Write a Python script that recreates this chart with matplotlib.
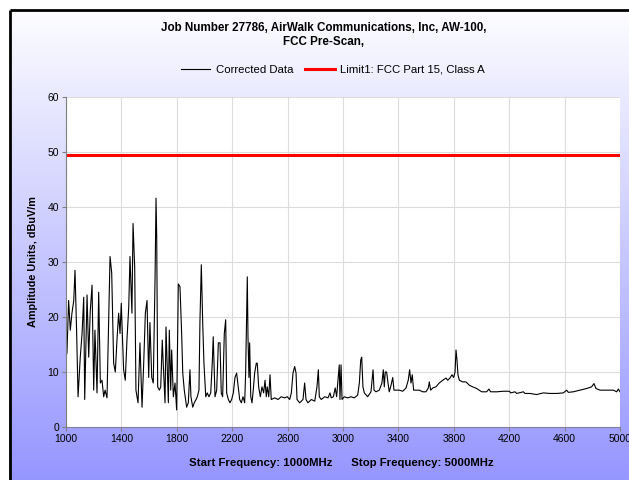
import numpy as np
import matplotlib
matplotlib.use("Agg")
import matplotlib.pyplot as plt

plt.rcParams['font.family'] = ['Liberation Sans', 'DejaVu Sans']

# frequency (MHz) and corrected amplitude (dBuV/m)
freq = [1000, 1007, 1019, 1031, 1043, 1056, 1065, 1077, 1087, 1103, 1116, 1128, 1135,
        1152, 1164, 1175, 1188, 1200, 1209, 1224, 1236, 1248, 1260, 1272, 1282, 1296,
        1308, 1318, 1330, 1344, 1356, 1368, 1380, 1390, 1399, 1416, 1428, 1440, 1453,
        1462, 1476, 1484, 1496, 1505, 1520, 1534, 1549, 1561, 1573, 1585, 1597, 1606,
        1619, 1630, 1643, 1650, 1655, 1662, 1674, 1684, 1695, 1703, 1715, 1722, 1731,
        1739, 1746, 1756, 1763, 1775, 1787, 1799, 1811, 1823, 1828, 1835, 1843, 1854,
        1871, 1883, 1895, 1902, 1915, 1926, 1939, 1948, 1960, 1967, 1977, 1987, 1996,
        2009, 2020, 2032, 2045, 2056, 2063, 2076, 2088, 2100, 2112, 2121, 2131, 2143,
        2153, 2160, 2172, 2184, 2196, 2208, 2220, 2232, 2242, 2254, 2266, 2278, 2290,
        2297, 2305, 2309, 2314, 2321, 2326, 2334, 2343, 2352, 2362, 2374, 2381, 2391,
        2403, 2415, 2427, 2437, 2446, 2453, 2464, 2473, 2482, 2507, 2531, 2554, 2579,
        2598, 2615, 2627, 2639, 2651, 2661, 2668, 2687, 2711, 2723, 2733, 2747, 2771,
        2796, 2812, 2822, 2829, 2843, 2868, 2892, 2906, 2915, 2930, 2944, 2954, 2964,
        2973, 2978, 2986, 2993, 3009, 3034, 3058, 3081, 3106, 3118, 3128, 3135, 3144,
        3154, 3178, 3202, 3217, 3224, 3238, 3262, 3281, 3291, 3298, 3305, 3315, 3325,
        3334, 3347, 3359, 3368, 3383, 3406, 3431, 3455, 3471, 3481, 3491, 3500, 3510,
        3527, 3551, 3575, 3599, 3616, 3623, 3633, 3648, 3671, 3695, 3720, 3744, 3756,
        3772, 3787, 3799, 3809, 3816, 3823, 3830, 3840, 3864, 3888, 3912, 3936, 3965,
        4001, 4037, 4054, 4066, 4110, 4157, 4201, 4211, 4242, 4254, 4302, 4314, 4350,
        4398, 4446, 4494, 4543, 4591, 4615, 4627, 4663, 4711, 4759, 4795, 4812, 4827,
        4856, 4904, 4952, 4976, 4988, 5000]
amp = [12.8, 13.5, 23, 17.6, 20.7, 23, 28.5, 17, 5.5, 12.7, 17, 23.6, 5,
       24, 12.7, 21, 25.8, 6.7, 17.6, 6.2, 24.5, 8, 8.5, 5.5, 6.7, 5.3,
       19, 31, 28, 11.6, 10, 15.8, 20.7, 17, 22.5, 10.4, 8.5, 15.8, 21.8,
       31, 20.7, 37, 29, 6.7, 4.4, 15.3, 3.6, 11.6, 20.7, 23, 9, 19,
       9, 8, 27, 41.6, 34.5, 7.3, 6.7, 7.3, 15.8, 11, 4.4, 18.2, 11,
       4.4, 17.6, 6.7, 14, 5.5, 8, 3.1, 26, 25.5, 21.8, 17, 9.8, 6.7,
       3.6, 4.4, 10.4, 5.5, 3.6, 4.4, 5, 5.5, 6.7, 19, 29.5, 19, 11.6,
       5.5, 6.2, 5.5, 6.2, 11.6, 16.4, 5.5, 6.7, 15.3, 15.3, 6.2, 5.5, 17,
       19.5, 6.2, 5, 4.4, 5, 6.2, 9, 9.8, 7.6, 5, 4.4, 5.5, 4.4,
       9.8, 21.8, 27.3, 16.4, 9, 15.3, 5.5, 4.4, 6.7, 9.8, 11.6, 11.6, 7.3,
       5.5, 7.3, 6.2, 8.5, 5.5, 7.3, 5.5, 9.5, 5, 5.3, 5, 5.5, 5.3,
       5.5, 5, 6.2, 9.8, 11, 9.8, 5, 4.4, 5, 8, 5, 4.4, 5,
       4.7, 7.3, 10.4, 5.5, 5, 5.5, 5.3, 6.2, 5.3, 5.5, 7.1, 5.5, 8.5,
       11.3, 5, 11.3, 5, 5.5, 5.3, 5.5, 5.3, 5.8, 8, 12.2, 12.7, 7.3,
       6.2, 5.5, 6.4, 10.4, 6.7, 6.4, 6.7, 8, 10.4, 7.3, 10, 10, 8,
       6.4, 7.6, 9, 6.7, 6.7, 6.7, 6.5, 7.1, 8.5, 10.4, 8, 9.5, 6.7,
       6.7, 6.7, 6.4, 6.4, 7.1, 8.2, 6.7, 7.1, 7.3, 8, 8.5, 8.9, 8.5,
       8.9, 9.5, 9, 10, 14, 12.2, 9.5, 8.5, 8.2, 8.2, 7.6, 7.3, 7.0,
       6.4, 6.4, 6.9, 6.4, 6.4, 6.5, 6.5, 6.2, 6.4, 6.1, 6.4, 6.1, 6.1,
       5.9, 6.2, 6.1, 6.1, 6.2, 6.7, 6.3, 6.4, 6.7, 7.0, 7.3, 7.9, 7.0,
       6.7, 6.7, 6.7, 6.4, 6.9, 6.4]

limit_freq = [1000, 5000]
limit_amp = [49.5, 49.5]

x_ticks = list(range(1000, 5001, 400))
y_ticks = list(range(0, 61, 10))

fig = plt.figure(figsize=(6.29, 4.8), dpi=100)

# background: white at the top fading to blue at the bottom
bg = fig.add_axes([0, 0, 1, 1], zorder=-10)
grad = np.linspace(0, 1, 256)[:, None]
top = np.array([1.0, 1.0, 1.0])
bot = np.array([150, 150, 255]) / 255.0
img = top + (bot - top) * grad[..., None]
bg.imshow(img, aspect='auto', extent=[0, 1, 0, 1], origin='upper')
bg.set_xlim(0, 1)
bg.set_ylim(0, 1)
bg.axis('off')
# white margin + black frame on top and left
bg.fill_between([0, 1], 1 - 9 / 480, 1, color='white', lw=0)
bg.fill_between([0, 9 / 629], 0, 1, color='white', lw=0)
bg.plot([10 / 629, 1], [1 - 10 / 480] * 2, color='black', lw=2, solid_capstyle='butt')
bg.plot([10 / 629] * 2, [-0.01, 1 - 10 / 480], color='black', lw=2, solid_capstyle='butt')

ax = fig.add_axes([66 / 629, 1 - 427 / 480, 554 / 629, 330 / 480])
ax.set_facecolor('white')
ax.plot(freq, amp, color='black', lw=0.8, label='Corrected Data')
ax.plot(limit_freq, limit_amp, color='#ff0000', lw=2.2, label='Limit1: FCC Part 15, Class A')

ax.set_xlim(1000, 5000)
ax.set_ylim(0, 60)
ax.set_xticks(x_ticks)
ax.set_yticks(y_ticks)
ax.grid(True, color='#dcdcdc', lw=0.8)
ax.set_axisbelow(True)
for s in ['top', 'right']:
    ax.spines[s].set_visible(False)
ax.spines['left'].set_color('#808080')
ax.spines['bottom'].set_color('#8080a0')
ax.tick_params(axis='both', labelsize=7.5, length=3, color='#808080', pad=2)

ax.set_ylabel('Amplitude Units, dBuV/m', fontsize=7.8, fontweight='bold', labelpad=7)
fig.text(0.543, 1 - 463 / 480, 'Start Frequency: 1000MHz      Stop Frequency: 5000MHz',
         ha='center', va='center', fontsize=8.2, fontweight='bold')
fig.text(0.514, 1 - 35 / 480, 'Job Number 27786, AirWalk Communications, Inc, AW-100,\nFCC Pre-Scan,',
         ha='center', va='center', fontsize=8.4, fontweight='bold', linespacing=1.15)

fig.legend(loc='center', bbox_to_anchor=(333 / 629, 1 - 70 / 480), ncol=2, frameon=False,
           fontsize=8.2, handlelength=2.6, columnspacing=1.0, handletextpad=0.5)

fig.savefig('out.png', dpi=100)
